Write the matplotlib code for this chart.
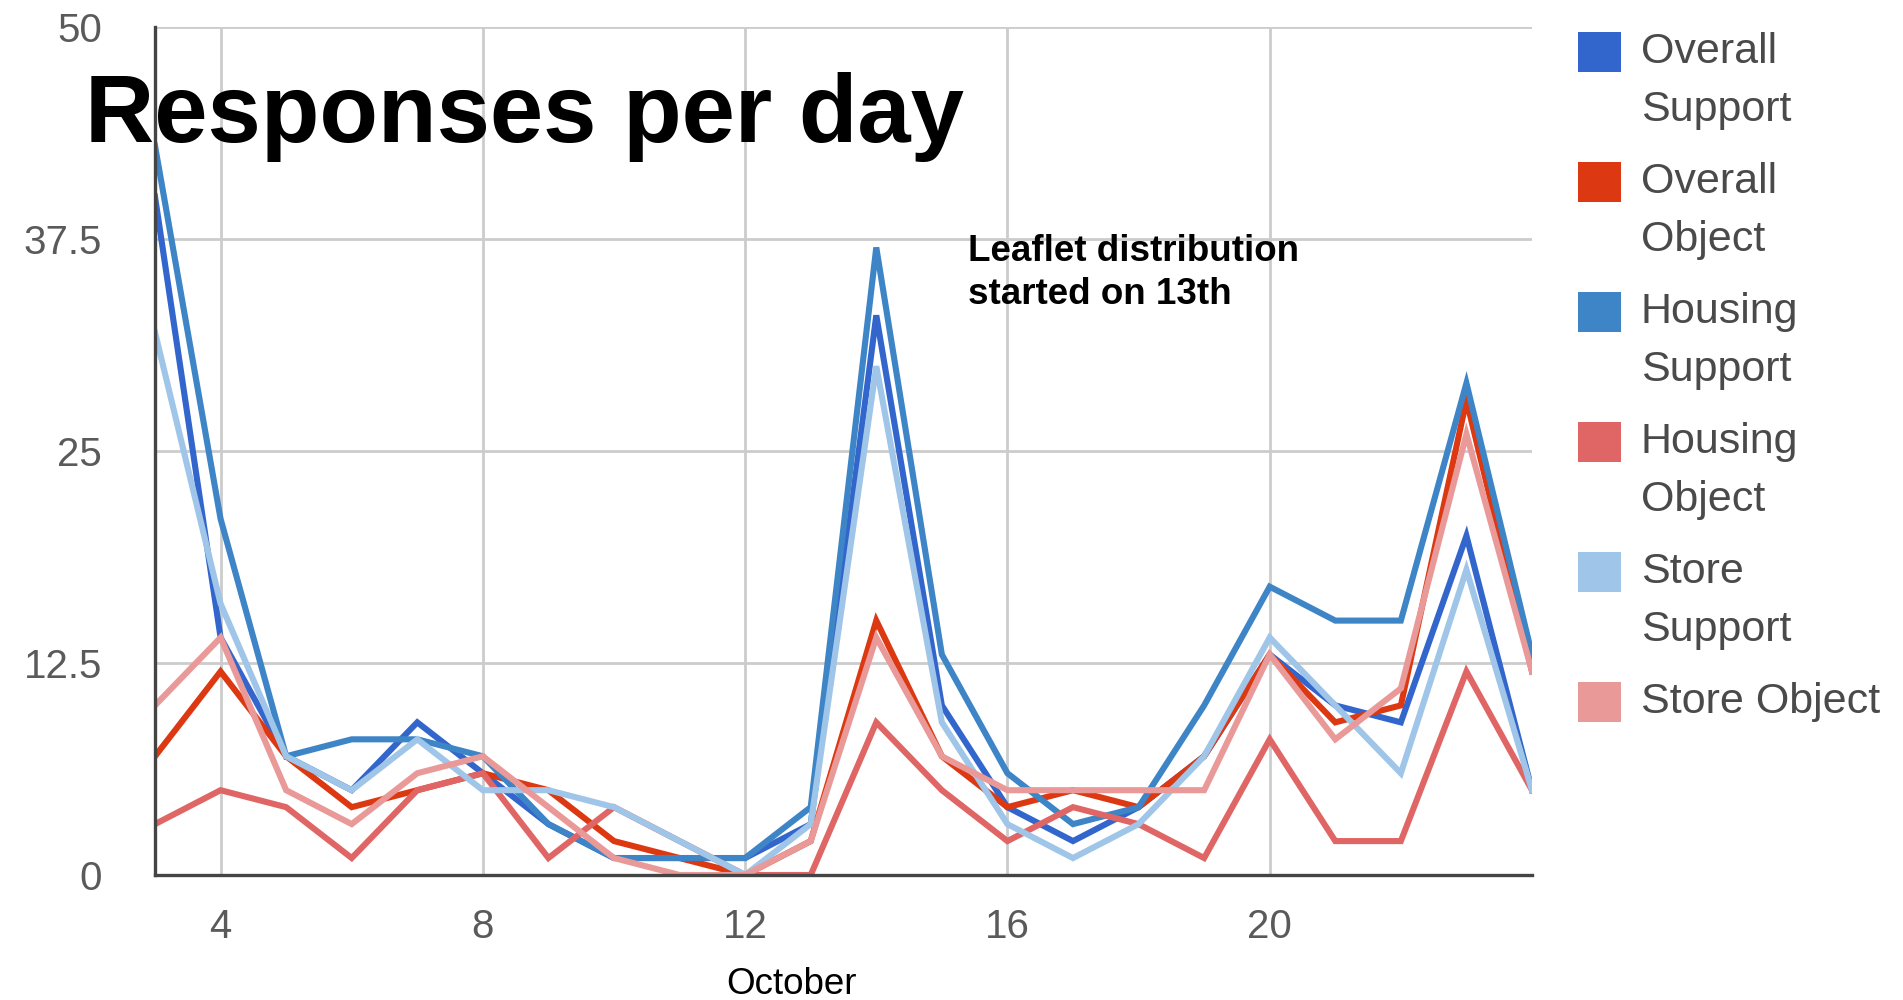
import matplotlib
matplotlib.use("Agg")
import matplotlib.pyplot as plt
from matplotlib.patches import Rectangle

# Days of October
days = list(range(3, 25))

overall_support = [40, 14, 7, 5, 9, 6, 3, 1, 1, 1, 3, 33, 10, 4, 2, 4, 7, 13, 10, 9, 20, 5]
overall_object  = [7, 12, 7, 4, 5, 6, 5, 2, 1, 0, 2, 15, 7, 4, 5, 4, 7, 13, 9, 10, 28, 12]
housing_support = [43, 21, 7, 8, 8, 7, 3, 1, 1, 1, 4, 37, 13, 6, 3, 4, 10, 17, 15, 15, 29, 13]
housing_object  = [3, 5, 4, 1, 5, 6, 1, 4, 2, 0, 0, 9, 5, 2, 4, 3, 1, 8, 2, 2, 12, 5]
store_support   = [32, 16, 7, 5, 8, 5, 5, 4, 2, 0, 3, 30, 9, 3, 1, 3, 7, 14, 10, 6, 18, 5]
store_object    = [10, 14, 5, 3, 6, 7, 4, 1, 0, 0, 2, 14, 7, 5, 5, 5, 5, 13, 8, 11, 26, 12]

series_labels = ["Overall\nSupport", "Overall\nObject", "Housing\nSupport",
                 "Housing\nObject", "Store\nSupport", "Store Object"]
series_values = [overall_support, overall_object, housing_support,
                 housing_object, store_support, store_object]
series_colors = ["#3366cc", "#dc3912", "#3d85c6", "#e06666", "#9fc5e8", "#ea9999"]

y_ticks = [0, 12.5, 25, 37.5, 50]
y_tick_labels = ["0", "12.5", "25", "37.5", "50"]
x_ticks = [4, 8, 12, 16, 20]
x_tick_labels = ["4", "8", "12", "16", "20"]

plt.rcParams["font.family"] = ["Liberation Sans", "DejaVu Sans"]

W, H = 1903, 1000
fig = plt.figure(figsize=(W / 100, H / 100), dpi=100)
ax = fig.add_axes([155 / W, 1 - 875 / H, (1532 - 155) / W, (875 - 27) / H])

for vals, col in zip(series_values, series_colors):
    ax.plot(days, vals, color=col, lw=4.4, solid_joinstyle="miter", zorder=3)

ax.set_xlim(3, 24)
ax.set_ylim(0, 50)
ax.set_yticks(y_ticks)
ax.set_yticklabels(y_tick_labels)
ax.set_xticks(x_ticks)
ax.set_xticklabels(x_tick_labels)
ax.tick_params(axis="both", length=0, labelsize=29, labelcolor="#5a5a5a")
ax.tick_params(axis="y", pad=38)
ax.tick_params(axis="x", pad=24)

ax.grid(True, color="#cccccc", lw=2.0, zorder=0)
ax.set_axisbelow(True)
for s in ["top", "right"]:
    ax.spines[s].set_visible(False)
for s in ["left", "bottom"]:
    ax.spines[s].set_color("#444444")
    ax.spines[s].set_linewidth(2.4)
    ax.spines[s].set_zorder(4)

# Title and annotation
fig.text(85 / W, 1 - 117 / H, "Responses per day", fontsize=69, fontweight="bold",
         color="black", ha="left", va="center")
fig.text(968 / W, 1 - 234 / H, "Leaflet distribution\nstarted on 13th", fontsize=26.5,
         fontweight="bold", color="black", ha="left", va="top", linespacing=1.3)
fig.text(791 / W, 1 - 984 / H, "October", fontsize=26.5, color="black",
         ha="center", va="center")

# Legend
sq_x, sq_w, sq_h = 1578, 43, 40
text_x = 1641
first_y = 52
step = 130
line_gap = 58
for i, (lab, col) in enumerate(zip(series_labels, series_colors)):
    cy = first_y + i * step
    fig.patches.append(Rectangle((sq_x / W, 1 - (cy + sq_h / 2) / H), sq_w / W, sq_h / H,
                                 transform=fig.transFigure, color=col, lw=0))
    for j, part in enumerate(lab.split("\n")):
        fig.text(text_x / W, 1 - (cy + j * line_gap) / H, part, fontsize=31,
                 color="#4a4a4a", ha="left", va="center")

fig.savefig("out.png", dpi=100)
